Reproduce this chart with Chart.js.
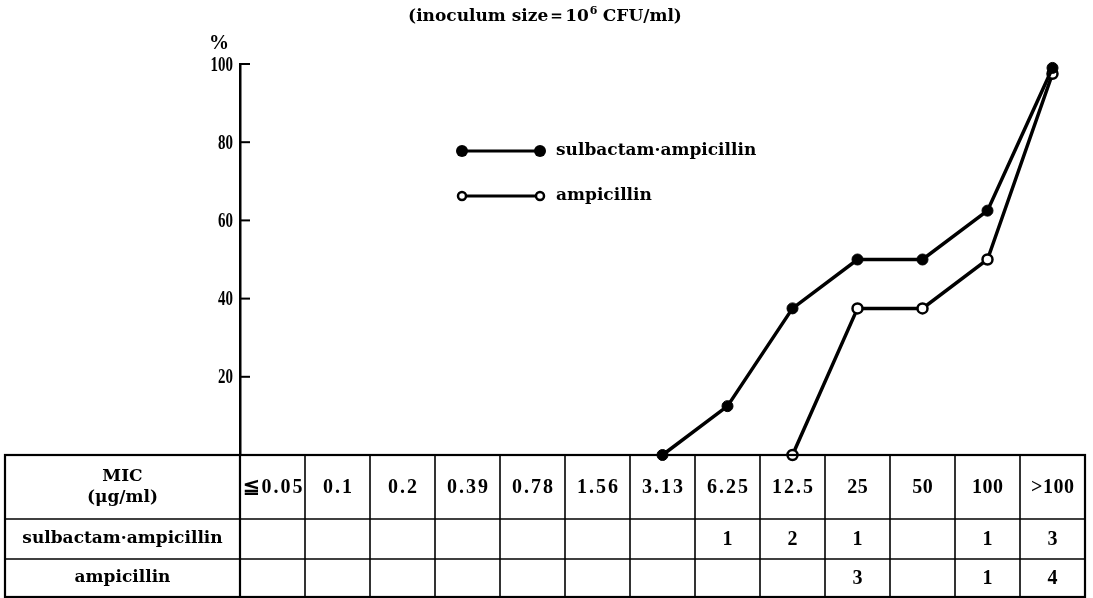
<!DOCTYPE html>
<html>
<head>
<meta charset="utf-8">
<script src="https://cdn.jsdelivr.net/npm/chart.js@4.4.1/dist/chart.umd.min.js"></script>
<style>
  html, body { margin: 0; padding: 0; background: #fff; }
  #wrap { width: 1093px; height: 598px; }
</style>
</head>
<body>
<div id="wrap"><canvas id="mic-chart"></canvas></div>
<script>
// MIC categories (µg/ml)
var micLabels = ["≦0.05", "0.1", "0.2", "0.39", "0.78", "1.56", "3.13", "6.25", "12.5", "25", "50", "100", ">100"];

// cumulative % of strains inhibited
var sulbactamPct  = [null, null, null, null, null, null, 0, 12.5, 37.5, 50, 50, 62.5, 99];
var ampicillinPct = [null, null, null, null, null, null, null, null, 0, 37.5, 37.5, 50, 97.5];

// number of strains per MIC
var sulbactamCount  = ["", "", "", "", "", "", "", "1", "2", "1", "", "1", "3"];
var ampicillinCount = ["", "", "", "", "", "", "", "", "", "3", "", "1", "4"];

var seriesNames = ["sulbactam\u00b7ampicillin", "ampicillin"];
var yTickStep = 20;

var serif = "'Liberation Serif', serif";
var wide = "'DejaVu Serif', serif";

var extras = {
  id: "extras",
  afterDraw: function (chart) {
    var c = chart.ctx;
    var xs = chart.scales.x;
    var ys = chart.scales.y;
    var area = chart.chartArea;
    c.save();
    c.fillStyle = "#000";
    c.strokeStyle = "#000";

    // y ticks: short marks inside the axis, narrow labels outside
    c.lineWidth = 2;
    c.font = "bold 22px " + serif;
    c.textAlign = "right";
    c.textBaseline = "middle";
    ys.ticks.forEach(function (t) {
      if (t.value === 0) return;
      var y = ys.getPixelForValue(t.value);
      c.beginPath();
      c.moveTo(area.left, y);
      c.lineTo(area.left + 10, y);
      c.stroke();
      c.save();
      c.translate(area.left - 7, y + 1);
      c.scale(0.68, 1);
      c.fillText(String(t.value), 0, 0);
      c.restore();
    });

    // % unit
    c.font = "bold 20px " + serif;
    c.fillText("%", area.left - 11, ys.getPixelForValue(100) - 20);

    // title
    var t1 = "(inoculum size\uff1d10", t2 = " CFU/ml)";
    c.font = "bold 17px " + wide;
    c.textAlign = "left";
    var w1 = c.measureText(t1).width;
    var w2 = c.measureText(t2).width;
    var tx = 545 - (w1 + w2 + 8) / 2;
    c.fillText(t1, tx, 17);
    c.fillText(t2, tx + w1 + 8, 17);
    c.font = "bold 11px " + wide;
    c.fillText("6", tx + w1 + 1, 11);

    // legend
    var lx1 = 462, lx2 = 540;
    var legY = [151, 196];
    legY.forEach(function (y, i) {
      c.lineWidth = 3;
      c.beginPath();
      c.moveTo(lx1, y);
      c.lineTo(lx2, y);
      c.stroke();
      [lx1, lx2].forEach(function (x) {
        c.beginPath();
        if (i === 0) {
          c.arc(x, y, 6, 0, Math.PI * 2);
          c.fill();
        } else {
          c.arc(x, y, 4, 0, Math.PI * 2);
          c.fillStyle = "#fff";
          c.fill();
          c.lineWidth = 2.5;
          c.stroke();
          c.fillStyle = "#000";
        }
      });
      c.font = "bold 17px " + wide;
      c.textAlign = "left";
      c.fillText(seriesNames[i], 556, y);
    });

    // table
    var colW = xs.getPixelForValue(1) - xs.getPixelForValue(0);
    var tLeft = 5;
    var tRight = xs.getPixelForValue(micLabels.length - 1) + colW / 2;
    var rows = [ys.getPixelForValue(0), 519, 559, 597];

    c.lineWidth = 1.6;
    for (var r = 1; r < rows.length - 1; r++) {
      c.beginPath();
      c.moveTo(tLeft, rows[r]);
      c.lineTo(tRight, rows[r]);
      c.stroke();
    }
    for (var i = 1; i < micLabels.length; i++) {
      var x = xs.getPixelForValue(i) - colW / 2;
      c.beginPath();
      c.moveTo(x, rows[0]);
      c.lineTo(x, rows[3]);
      c.stroke();
    }
    c.lineWidth = 2.2;
    c.strokeRect(tLeft, rows[0], tRight - tLeft, rows[3] - rows[0]);
    c.beginPath();
    c.moveTo(area.left, rows[0]);
    c.lineTo(area.left, rows[3]);
    c.stroke();

    var firstCx = (tLeft + area.left) / 2;
    c.textAlign = "center";
    c.textBaseline = "middle";
    c.font = "bold 17px " + wide;
    c.fillText("MIC", firstCx, rows[0] + 22);
    c.fillText("(\u03bcg/ml)", firstCx, rows[0] + 43);
    c.fillText(seriesNames[0], firstCx, (rows[1] + rows[2]) / 2);
    c.fillText(seriesNames[1], firstCx, (rows[2] + rows[3]) / 2);

    micLabels.forEach(function (lab, i) {
      var cx = xs.getPixelForValue(i);
      var dotted = lab.indexOf(".") >= 0;
      c.font = "bold 20px " + serif;
      c.letterSpacing = dotted ? "2px" : "0.5px";
      c.fillText(lab, cx + (dotted ? 1 : 0.25), (rows[0] + rows[1]) / 2 + 1);
      c.letterSpacing = "0px";
      c.fillText(sulbactamCount[i], cx, (rows[1] + rows[2]) / 2 + 1);
      c.fillText(ampicillinCount[i], cx, (rows[2] + rows[3]) / 2 + 1);
    });

    c.restore();
  }
};

var ctx = document.getElementById("mic-chart");

var chart = new Chart(ctx, {
  type: "line",
  data: {
    labels: micLabels,
    datasets: [
      {
        label: seriesNames[0],
        data: sulbactamPct,
        borderColor: "#000",
        borderWidth: 3.5,
        pointRadius: 5.5,
        pointBackgroundColor: "#000",
        pointBorderColor: "#000",
        pointBorderWidth: 1,
        tension: 0,
        clip: false
      },
      {
        label: seriesNames[1],
        data: ampicillinPct,
        borderColor: "#000",
        borderWidth: 3.5,
        pointRadius: 5,
        pointBackgroundColor: "#fff",
        pointBorderColor: "#000",
        pointBorderWidth: 2.5,
        tension: 0,
        clip: false
      }
    ]
  },
  options: {
    responsive: true,
    maintainAspectRatio: false,
    animation: false,
    layout: {
      padding: { top: 64, left: 200, right: 8, bottom: 143 }
    },
    plugins: {
      legend: { display: false },
      title: { display: false },
      tooltip: { enabled: false }
    },
    scales: {
      x: {
        display: false,
        offset: true
      },
      y: {
        min: 0,
        max: 100,
        afterFit: function (scale) { scale.width = 40; },
        grid: { display: true, drawOnChartArea: false, drawTicks: false },
        border: { display: true, color: "#000", width: 2.5 },
        ticks: {
          display: false,
          stepSize: yTickStep
        }
      }
    }
  },
  plugins: [extras]
});
</script>
</body>
</html>
